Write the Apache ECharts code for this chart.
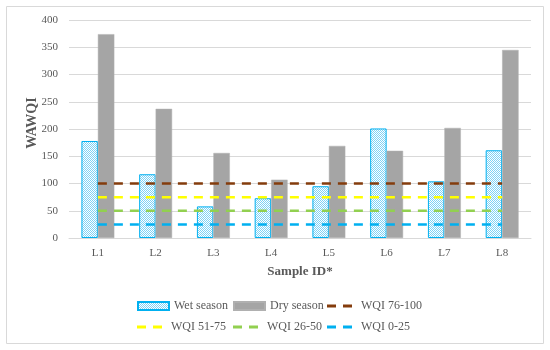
<!DOCTYPE html>
<html><head><meta charset="utf-8">
<script src="https://cdn.jsdelivr.net/npm/echarts@6/dist/echarts.min.js"></script>
<style>html,body{margin:0;padding:0;background:#fff}#c{width:550px;height:350px}</style>
</head><body><div id="c"></div>
<script>
var categories = ['L1','L2','L3','L4','L5','L6','L7','L8'];
var wetSeason = [178, 117, 58, 73, 95, 201, 104, 161];
var drySeason = [374, 237, 156, 107, 169, 160, 202, 345];
var wqi76_100 = [100,100,100,100,100,100,100,100];
var wqi51_75 = [75,75,75,75,75,75,75,75];
var wqi26_50 = [50,50,50,50,50,50,50,50];
var wqi0_25 = [25,25,25,25,25,25,25,25];
var yTicks = {min: 0, max: 400, interval: 50};

var pc = document.createElement('canvas');
pc.width = 2; pc.height = 2;
var g = pc.getContext('2d');
g.fillStyle = '#ffffff'; g.fillRect(0,0,2,2);
g.fillStyle = '#7fd2f5'; g.fillRect(0,0,1,1); g.fillRect(1,1,1,1);
var wetFill = {image: pc, repeat: 'repeat'};

var font = 'Liberation Serif';
var chart = echarts.init(document.getElementById('c'), null, {renderer: 'canvas'});
function lineSeries(name, data, color) {
  return {name: name, type: 'line', data: data, symbol: 'none', silent: true,
    lineStyle: {color: color, width: 2.5, type: [9, 7]}, itemStyle: {color: color}, z: 5};
}
var dashIcon = 'path://M0,0h9v3h-9z M16,0h9v3h-9z';
function lg(name, left, top, line) {
  var o = {data: [{name: name, icon: line ? dashIcon : 'rect'}], left: left, top: top, orient: 'horizontal',
    itemWidth: line ? 25 : 31, itemHeight: line ? 3 : 8, padding: 0, selectedMode: false,
    textStyle: {fontFamily: font, fontSize: 12, color: '#595959', padding: line ? [0,0,0,4] : 0}};
  if (line) o.itemStyle = {borderWidth: 0};
  return o;
}
chart.setOption({
  animation: false,
  graphic: [{type: 'rect', shape: {x: 6.5, y: 6.5, width: 537, height: 337},
    style: {fill: 'none', stroke: '#d9d9d9', lineWidth: 1}}],
  grid: {left: 69, right: 19, top: 20, bottom: 112},
  legend: [
    lg('Wet season', 137, 300, false),
    lg('Dry season', 233, 300, false),
    lg('WQI 76-100', 327, 300, true),
    lg('WQI 51-75', 137, 321, true),
    lg('WQI 26-50', 233, 321, true),
    lg('WQI 0-25', 327, 321, true)
  ],
  xAxis: {type: 'category', data: categories,
    name: 'Sample ID*', nameLocation: 'middle', nameGap: 27,
    nameTextStyle: {fontFamily: font, fontSize: 13, fontWeight: 'bold', color: '#595959'},
    axisLine: {lineStyle: {color: '#d9d9d9'}}, axisTick: {show: false},
    axisLabel: {fontFamily: font, fontSize: 11, color: '#595959', margin: 10}},
  yAxis: {type: 'value', min: yTicks.min, max: yTicks.max, interval: yTicks.interval,
    name: 'WAWQI', nameLocation: 'middle', nameGap: 30, nameRotate: 90, nameMoveOverlap: false,
    nameTextStyle: {fontFamily: font, fontSize: 14, fontWeight: 'bold', color: '#595959', padding: [0, 0, 0, 12]},
    axisLine: {show: false}, axisTick: {show: false},
    splitLine: {lineStyle: {color: '#d9d9d9', width: 1}},
    axisLabel: {fontFamily: font, fontSize: 11, color: '#595959', margin: 11}},
  series: [
    {name: 'Wet season', type: 'bar', data: wetSeason, barGap: '0%', barCategoryGap: '43%',
      itemStyle: {color: wetFill, borderColor: '#00b0f0', borderWidth: 1}},
    {name: 'Dry season', type: 'bar', data: drySeason,
      itemStyle: {color: '#a5a5a5', borderColor: '#b0b0b0', borderWidth: 0.5}},
    lineSeries('WQI 76-100', wqi76_100, '#843c0c'),
    lineSeries('WQI 51-75', wqi51_75, '#ffff00'),
    lineSeries('WQI 26-50', wqi26_50, '#92d050'),
    lineSeries('WQI 0-25', wqi0_25, '#00b0f0')
  ]
});
</script></body></html>
